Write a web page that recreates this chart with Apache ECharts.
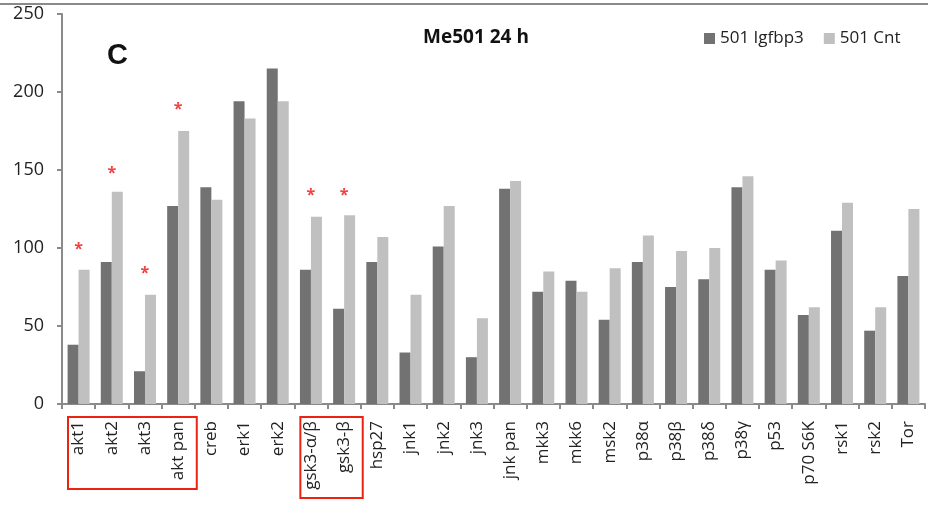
<!DOCTYPE html>
<html><head><meta charset="utf-8">
<script src="https://cdn.jsdelivr.net/npm/echarts@6/dist/echarts.min.js"></script>
<style>html,body{margin:0;padding:0;background:#fff}#c{width:928px;height:507px}</style>
</head><body><div id="c"></div>
<script>
const categories = ['akt1','akt2','akt3','akt pan','creb','erk1','erk2','gsk3-α/β','gsk3-β','hsp27','jnk1','jnk2','jnk3','jnk pan','mkk3','mkk6','msk2','p38α','p38β','p38δ','p38γ','p53','p70 S6K','rsk1','rsk2','Tor'];
const igfbp3 = [38,91,21,127,139,194,215,86,61,91,33,101,30,138,72,79,54,91,75,80,139,86,57,111,47,82];
const cnt = [86,136,70,175,131,183,194,120,121,107,70,127,55,143,85,72,87,108,98,100,146,92,62,129,62,125];
const starCats = ['akt1','akt2','akt3','akt pan','gsk3-α/β','gsk3-β'];
const starValues = [102,151,87,192,137,137];
const yTicks = [0,50,100,150,200,250];
const boxedGroups = [['akt1','akt pan'],['gsk3-α/β','gsk3-β']];

const FONT = '"Open Sans", "Noto Sans", sans-serif';
const chart = echarts.init(document.getElementById('c'), null, {renderer:'canvas'});
chart.setOption({
  animation:false,
  backgroundColor:'#fff',
  title:[{text:'Me501 24 h', left:471, top:23, textAlign:'center',
          textStyle:{fontFamily:FONT, fontWeight:'bold', fontSize:19, color:'#111'}},
         {text:'C', left:102, top:36, textStyle:{fontFamily:'"Liberation Sans", Arial, sans-serif', fontWeight:'bold', fontSize:29, color:'#111'}}],
  legend:{data:['501 Igfbp3','501 Cnt'], left:699, top:25, itemWidth:11, itemHeight:11, itemGap:20,
          textStyle:{fontFamily:FONT, fontSize:17, color:'#222'}, icon:'rect'},
  grid:{left:62, right:3, top:14, bottom:103},
  xAxis:{type:'category', data:categories,
    axisLine:{lineStyle:{color:'#8a8a8a', width:2}},
    axisTick:{show:true, alignWithLabel:false, length:5, lineStyle:{color:'#8a8a8a', width:2}},
    axisLabel:{rotate:90, interval:0, margin:17, fontFamily:FONT, fontSize:17, color:'#222'}},
  yAxis:{type:'value', min:yTicks[0], max:yTicks[yTicks.length-1], interval:50,
    splitLine:{show:false},
    axisLine:{show:true, lineStyle:{color:'#8a8a8a', width:2}},
    axisTick:{show:true, length:5, lineStyle:{color:'#8a8a8a', width:2}},
    axisLabel:{fontFamily:FONT, fontSize:18, color:'#222', margin:18}},
  series:[
    {name:'501 Igfbp3', type:'bar', data:igfbp3, barWidth:11, barGap:'0%', itemStyle:{color:'#727272'}},
    {name:'501 Cnt', type:'bar', data:cnt, barWidth:11, barGap:'0%', itemStyle:{color:'#c0c0c0'}},
    {name:'stars', type:'scatter', data:starCats.map((c,i)=>[c,starValues[i]]), symbolSize:1,
     itemStyle:{color:'rgba(0,0,0,0)'},
     label:{show:true, formatter:'*', position:'inside', offset:[0,5], color:'#ee1111', fontSize:16, fontWeight:'bold', fontFamily:FONT}}
  ]
});
const els = [{type:'line', shape:{x1:0,y1:4,x2:928,y2:4}, style:{stroke:'#8a8a8a', lineWidth:2}}];
boxedGroups.forEach(g=>{
  const half = (chart.convertToPixel({xAxisIndex:0}, categories[1]) - chart.convertToPixel({xAxisIndex:0}, categories[0]))/2;
  const xl = chart.convertToPixel({xAxisIndex:0}, g[0]) - half + 6;
  const xr = chart.convertToPixel({xAxisIndex:0}, g[1]) + half + 2;
  const y0 = chart.convertToPixel({yAxisIndex:0}, 0);
  const h = g[0]==='akt1' ? 72 : 81;
  els.push({type:'rect', shape:{x:xl, y:y0+13, width:xr-xl, height:h}, style:{fill:'none', stroke:'#ee2211', lineWidth:2}});
});
chart.setOption({graphic:els});
</script></body></html>
